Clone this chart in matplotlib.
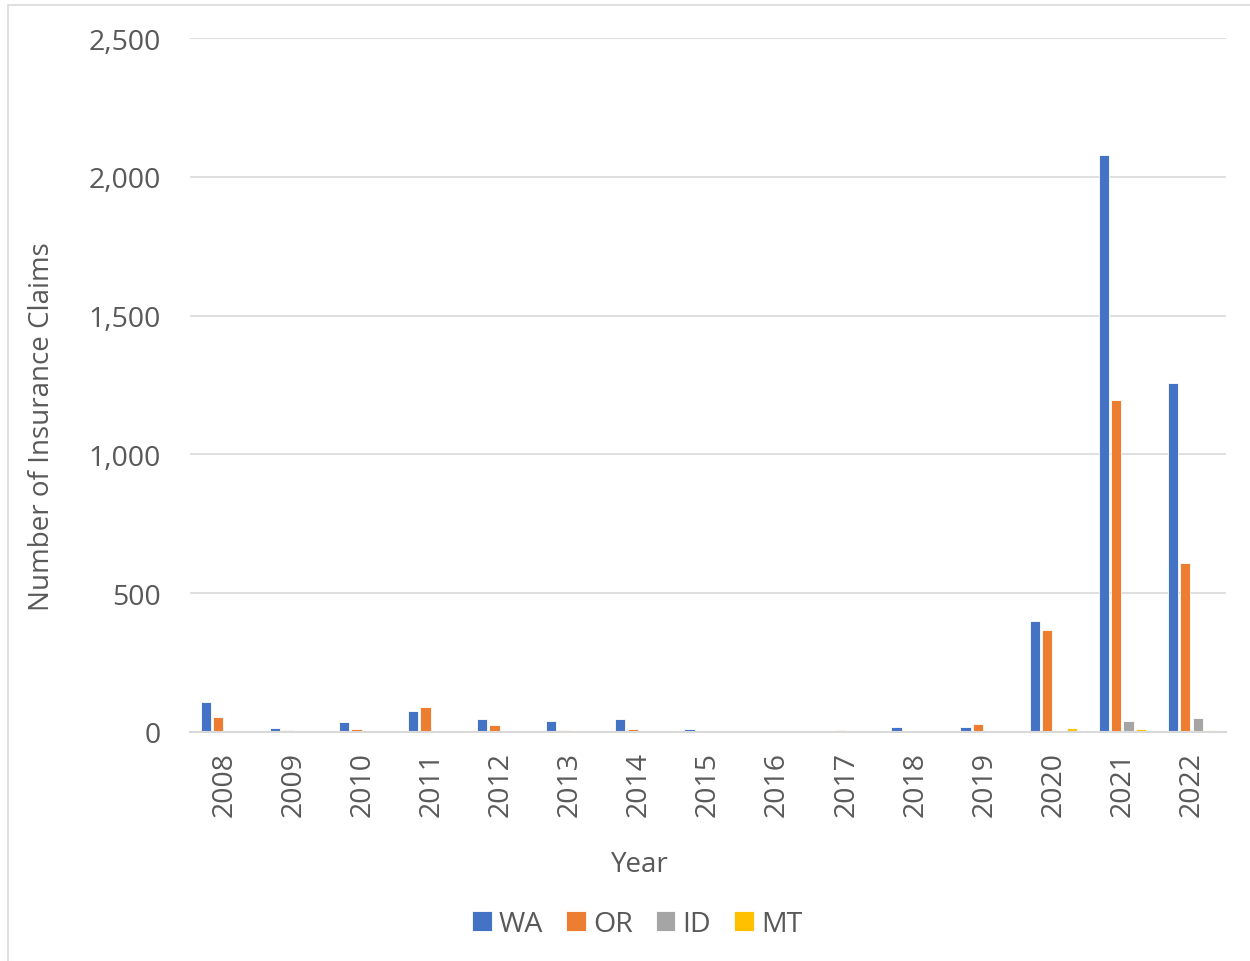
import matplotlib
matplotlib.use("Agg")
import numpy as np
import matplotlib.pyplot as plt
from matplotlib.patches import Rectangle
from matplotlib.ticker import FuncFormatter

years = ["2008", "2009", "2010", "2011", "2012", "2013", "2014", "2015",
         "2016", "2017", "2018", "2019", "2020", "2021", "2022"]
wa = [107, 14, 35, 76, 47, 41, 47, 12, 0, 1, 18, 19, 400, 2078, 1257]
or_ = [53, 6, 10, 91, 26, 6, 11, 1, 0, 7, 0, 28, 367, 1196, 609]
id_ = [0, 0, 0, 0, 0, 0, 2, 0, 0, 0, 0, 0, 5, 38, 50]
mt = [0, 0, 0, 0, 0, 0, 0, 3, 0, 0, 0, 0, 15, 12, 8]

series = [("WA", wa, "#4472c4"), ("OR", or_, "#ed7d31"),
          ("ID", id_, "#a5a5a5"), ("MT", mt, "#ffc000")]

plt.rcParams['font.family'] = ['Open Sans', 'DejaVu Sans']
txt = "#595959"
fs = 20.5

fig = plt.figure(figsize=(12.5, 9.62), dpi=100)
ax = fig.add_axes([190 / 1250, 1 - 733 / 962, 1036 / 1250, 694 / 962])

x = np.arange(len(years))
w = 0.15
step = 0.18
for i, (name, vals, col) in enumerate(series):
    ax.bar(x + (i - 1.5) * step, vals, w, color=col, label=name,
           edgecolor="white", linewidth=0.6)

ax.set_xlim(-0.5, len(years) - 0.5)
ax.set_ylim(0, 2500)
ax.set_yticks([0, 500, 1000, 1500, 2000, 2500])
ax.yaxis.set_major_formatter(FuncFormatter(lambda v, p: f"{int(v):,}"))
ax.set_xticks(x)
ax.set_xticklabels(years, rotation=90)
ax.tick_params(length=0, labelsize=fs, colors=txt)
ax.tick_params(axis="y", pad=21)
ax.tick_params(axis="x", pad=14)
ax.grid(axis="y", color="#d9d9d9", linewidth=1.2)
ax.set_axisbelow(True)
for s in ["top", "right", "left"]:
    ax.spines[s].set_visible(False)
ax.spines["bottom"].set_color("#d9d9d9")
ax.spines["bottom"].set_linewidth(1.5)

fig.text(42 / 1250, 1 - 427 / 962, "Number of Insurance Claims", rotation=90,
         ha="center", va="center", fontsize=20, color=txt)
fig.text(640 / 1250, 1 - 865 / 962, "Year", ha="center", va="center",
         fontsize=20, color=txt)

fig.legend(loc="center", bbox_to_anchor=(637 / 1250, 1 - 925 / 962), ncol=4,
           frameon=False, fontsize=fs, labelcolor=txt, handlelength=0.7,
           handleheight=0.7, handletextpad=0.25, columnspacing=0.8)

fig.patches.append(Rectangle((8 / 1250, -0.1), 1.2, 1 - 6 / 962 + 0.1,
                             transform=fig.transFigure, fill=False,
                             edgecolor="#d9d9d9", linewidth=1.2))

fig.savefig("out.png", dpi=100)
